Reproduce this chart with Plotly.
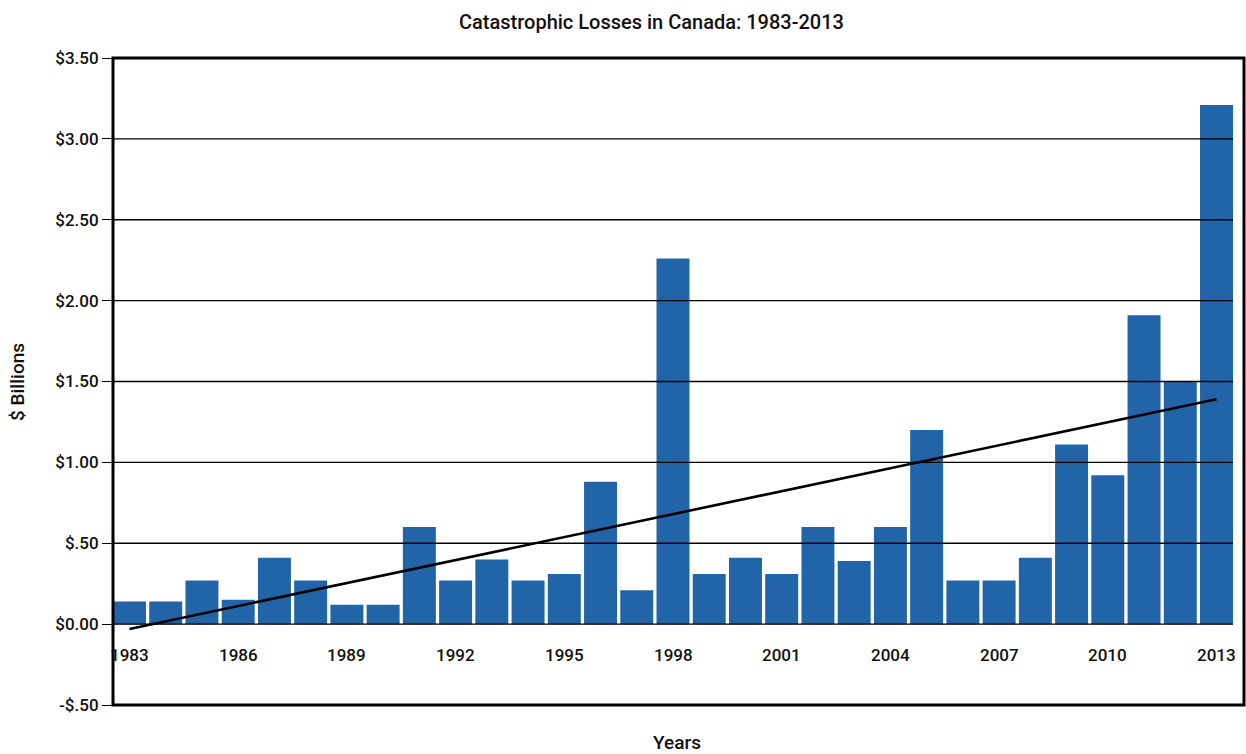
import plotly.graph_objects as go

years = list(range(1983, 2014))
losses = [0.14, 0.14, 0.27, 0.15, 0.41, 0.27, 0.12, 0.12, 0.60, 0.27,
          0.40, 0.27, 0.31, 0.88, 0.21, 2.26, 0.31, 0.41, 0.31, 0.60,
          0.39, 0.60, 1.20, 0.27, 0.27, 0.41, 1.11, 0.92, 1.91, 1.50, 3.21]
trend_years = [1983, 2013]
trend_values = [-0.03, 1.39]
label_years = [1983, 1986, 1989, 1992, 1995, 1998, 2001, 2004, 2007, 2010, 2013]
ytick_vals = [-0.5, 0.0, 0.5, 1.0, 1.5, 2.0, 2.5, 3.0, 3.5]
ytick_text = ["-$.50", "$0.00", "$.50", "$1.00", "$1.50", "$2.00", "$2.50", "$3.00", "$3.50"]
label_y = -0.19

FONT = "Roboto"
BAR = "#2264A8"

fig = go.Figure()
fig.add_trace(go.Bar(x=years, y=losses, marker=dict(color=BAR, line=dict(width=0)),
                     hoverinfo="x+y"))
fig.add_trace(go.Scatter(x=trend_years, y=trend_values, mode="lines",
                         line=dict(color="black", width=2.6), hoverinfo="skip"))

L, R, T, B = 113, 13, 58, 49
W, H = 1246, 754
dom_w = W - L - R
dom_h = H - T - B

# gridlines above bars
for v in ytick_vals:
    if -0.5 < v < 3.5:
        fig.add_shape(type="line", xref="paper", yref="y", x0=0, x1=1, y0=v, y1=v,
                      line=dict(color="black", width=1.3), layer="above")

# frame
fig.add_shape(type="rect", xref="paper", yref="paper", x0=0, x1=(1244 - L) / dom_w,
              y0=0, y1=1, line=dict(color="black", width=3), layer="above")

for yr in label_years:
    fig.add_annotation(x=yr, y=label_y, xref="x", yref="y", text=str(yr),
                       showarrow=False, yanchor="middle", xanchor="center",
                       font=dict(family=FONT, size=17, color="#111", weight=500))

# axis titles
fig.add_annotation(x=(677 - L) / dom_w, y=-(742 - (H - B)) / dom_h, xref="paper", yref="paper",
                   text="Years", showarrow=False, xanchor="center", yanchor="middle",
                   font=dict(family=FONT, size=19, color="#111", weight=500))
fig.add_annotation(x=(17 - L) / dom_w, y=(H - B - 382) / dom_h, xref="paper", yref="paper",
                   text="$ Billions", showarrow=False, xanchor="center", yanchor="middle",
                   textangle=-90,
                   font=dict(family=FONT, size=19, color="#111", weight=500))

fig.update_layout(
    width=W, height=H,
    margin=dict(l=L, r=R, t=T, b=B, autoexpand=False),
    paper_bgcolor="white", plot_bgcolor="white",
    showlegend=False, bargap=0.09,
    title=dict(text="Catastrophic Losses in Canada: 1983-2013",
               x=651.5 / W, xanchor="center", y=1 - 22 / H, yanchor="middle",
               font=dict(family=FONT, size=20, color="#111", weight=500)),
    xaxis=dict(range=[1982.545, 2013.455], showticklabels=False, ticks="",
               showgrid=False, zeroline=False, showline=False),
    yaxis=dict(range=[-0.5, 3.5], tickvals=ytick_vals, ticktext=ytick_text,
               ticks="outside", ticklen=10, tickwidth=1.3, tickcolor="black",
               showgrid=False, zeroline=False, showline=False,
               tickfont=dict(family=FONT, size=17, color="#111", weight=500)),
)

fig.write_html("out.html")
